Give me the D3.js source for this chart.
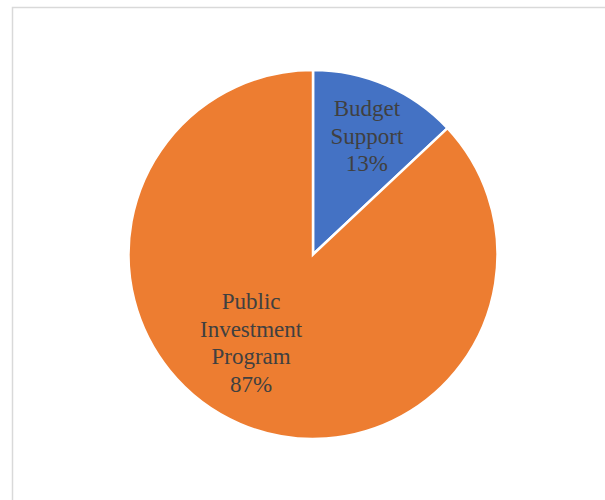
<!DOCTYPE html>
<html>
<head>
<meta charset="utf-8">
<script src="https://cdn.jsdelivr.net/npm/d3@7"></script>
<style>
  html, body { margin: 0; padding: 0; background: #fff; }
  svg { display: block; }
</style>
</head>
<body>
<svg id="chart" width="605" height="500"></svg>
<script>
// Funding split
const categories = ["Budget Support", "Public Investment Program"];
const labelLines = [["Budget", "Support"], ["Public", "Investment", "Program"]];
const shares = [13, 87];
const colors = ["#4472C4", "#ED7D31"];

const width = 605, height = 500;
const cx = 313, cy = 254.5, radius = 184.5;
const fontSize = 23, lineHeight = 27.6;

// label placement: angle nudge (degrees) and distance as a fraction of the radius
const labelPlacement = [{ shift: 1.1, k: 0.705 }, { shift: 11.6, k: 0.585 }];

const svg = d3.select("#chart");

// chart area frame (extends past the window on the right and bottom)
svg.append("rect")
  .attr("x", 12.5).attr("y", 7.5)
  .attr("width", 700).attr("height", 600)
  .attr("fill", "#fff")
  .attr("stroke", "#d9d9d9")
  .attr("stroke-width", 1.5);

const data = categories.map((c, i) => ({ name: c, value: shares[i], lines: labelLines[i], color: colors[i], idx: i }));

const pie = d3.pie().value(d => d.value).sort(null);
const arcs = pie(data);
const arc = d3.arc().innerRadius(0).outerRadius(radius);

const g = svg.append("g").attr("transform", `translate(${cx},${cy})`);

g.selectAll("path.slice")
  .data(arcs)
  .join("path")
  .attr("class", "slice")
  .attr("d", arc)
  .attr("fill", d => d.data.color)
  .attr("stroke", "#fff")
  .attr("stroke-width", 2.5)
  .attr("stroke-linejoin", "miter");

const pct = d3.format(".0%");

const labels = g.selectAll("text.label")
  .data(arcs)
  .join("text")
  .attr("class", "label")
  .attr("text-anchor", "middle")
  .attr("font-family", "'Liberation Serif', 'Times New Roman', serif")
  .attr("font-size", fontSize)
  .attr("fill", "#404040")
  .each(function (d) {
    const p = labelPlacement[d.data.idx];
    const mid = (d.startAngle + d.endAngle) / 2 + p.shift * Math.PI / 180;
    const r = p.k * radius;
    const x = r * Math.sin(mid);
    const y = -r * Math.cos(mid);
    const lines = d.data.lines.concat([pct(d.data.value / 100)]);
    const n = lines.length;
    const firstBaseline = y - (n - 1) / 2 * lineHeight + 0.33 * fontSize;
    const t = d3.select(this);
    lines.forEach((ln, j) => {
      t.append("tspan")
        .attr("x", x)
        .attr("y", firstBaseline + j * lineHeight)
        .text(ln);
    });
  });
</script>
</body>
</html>
